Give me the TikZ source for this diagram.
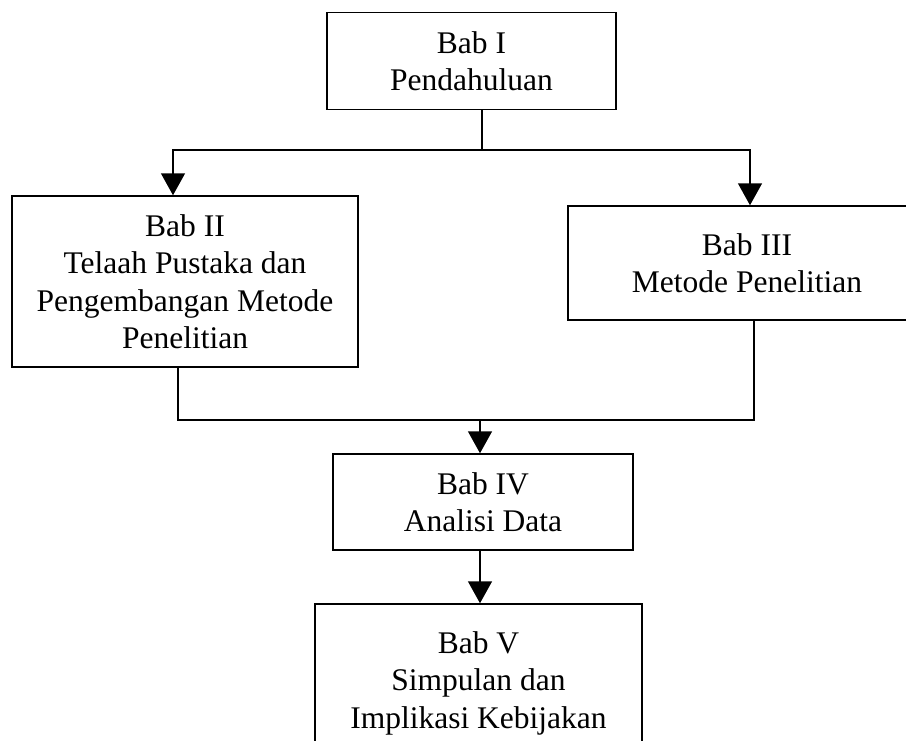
\documentclass[tikz,border=0pt]{standalone}
\usepackage{fontspec}
\setmainfont{Liberation Serif}
\usetikzlibrary{arrows.meta}
\begin{document}
\begin{tikzpicture}[x=1pt,y=-1pt,
  box/.style={draw, line width=1.5pt, rectangle, inner sep=0pt, align=center,
    font=\fontsize{31.5}{37.5}\selectfont},
  link/.style={line width=1.5pt},
  arr/.style={link, -{Triangle[length=22pt,width=24pt]}}]
\useasboundingbox (0,0) rectangle (906,740);
\clip (0,0) rectangle (906,740);
% chapter boxes
\node[box, minimum width=289pt, minimum height=97pt] (b1) at (471.5,61) {Bab I\\Pendahuluan};
\node[box, minimum width=346pt, minimum height=171pt] (b2) at (185,281.5)
  {Bab II\\Telaah Pustaka dan\\Pengembangan Metode\\Penelitian};
\node[box, minimum width=358pt, minimum height=114pt] (b3) at (747,263) {Bab III\\Metode Penelitian};
\node[box, minimum width=300pt, minimum height=96pt] (b4) at (483,502) {Bab IV\\Analisi Data};
\node[box, minimum width=327pt, minimum height=158pt] (b5) at (478.5,683)
  {Bab V\\Simpulan dan\\Implikasi Kebijakan};
% junctions
\coordinate (split) at (482,150);
\coordinate (merge) at (480,420);
% Bab I branches to Bab II and Bab III
\draw[link] (b1.south -| split) -- (split);
\draw[arr] (split) -| ([xshift=-12pt]b2.north);
\draw[arr] (split) -| ([xshift=3pt]b3.north);
% Bab II and Bab III join into Bab IV
\draw[link] ([xshift=-7pt]b2.south) |- (merge);
\draw[link] ([xshift=7pt]b3.south) |- (merge);
\draw[arr] (merge) -- (b4.north -| merge);
% Bab IV to Bab V
\draw[arr] (b4.south -| merge) -- (b5.north -| merge);
\end{tikzpicture}
\end{document}
